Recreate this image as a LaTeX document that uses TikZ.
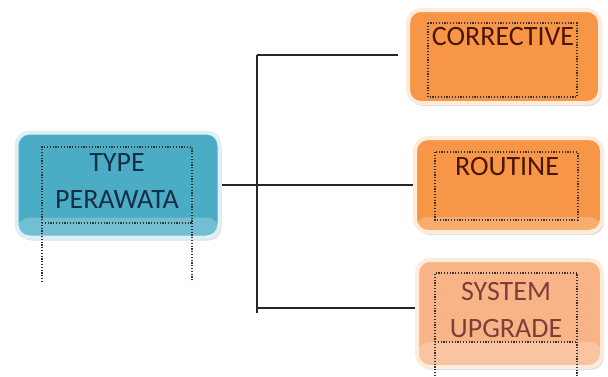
\documentclass[tikz,border=0pt]{standalone}
\usepackage{fontspec}
\setmainfont{Carlito}
\usepackage{tikz}
\usetikzlibrary{shadows}

\definecolor{tealfill}{HTML}{4BACC6}
\definecolor{tealrim}{HTML}{DDF0F5}
\definecolor{tealtext}{HTML}{172F45}
\definecolor{orangefill}{HTML}{F79646}
\definecolor{peachfill}{HTML}{F8B487}
\definecolor{orangerim}{HTML}{FDEBDC}
\definecolor{browntext}{HTML}{4A1606}
\definecolor{rosetext}{HTML}{7E3E3A}

\tikzset{
  box/.style={rounded corners=13pt, line width=4pt, minimum width=#1, inner sep=0pt,
    drop shadow={opacity=0.25, shadow xshift=2pt, shadow yshift=-3pt}},
  gloss/.style={path picture={\fill[white, opacity=0.22]
    ([yshift=#1]path picture bounding box.south west) rectangle
    (path picture bounding box.south east);}},
  frame/.style={dash pattern=on 1.2pt off 1.6pt, line width=1.3pt, black!80},
  lbl/.style={font=\fontsize{28}{37}\selectfont, align=center, inner sep=0pt},
  link/.style={line width=1.6pt, black!85}
}

\begin{document}
\begin{tikzpicture}[x=1pt,y=-1pt]
\useasboundingbox (0,0) rectangle (608,376);

% boxes
\node[box=203pt, minimum height=105pt, fill=tealfill, draw=tealrim, gloss=20pt] (type) at (118,185) {};
\node[box=192pt, minimum height=93pt, fill=orangefill, draw=orangerim] (corrective) at (504,56.5) {};
\node[box=187pt, minimum height=94pt, fill=orangefill, draw=orangerim, gloss=15pt] (routine) at (508.5,185) {};
\node[box=185pt, minimum height=107pt, fill=peachfill, draw=orangerim, gloss=25pt] (upgrade) at (509.5,313.5) {};

% text frames
\draw[frame] (42,282) -- (42,147) -- (192,147) -- (192,282) (42,223) -- (192,223);
\draw[frame] (428,23) rectangle (577,97);
\draw[frame] (435,152) rectangle (578,220);
\draw[frame] (435,376) -- (435,273) -- (577,273) -- (577,376) (435,342) -- (577,342);

% labels
\node[lbl, text=tealtext] (typetxt) at (117,181.5) {TYPE\\PERAWATA};
\node[lbl, text=browntext] (correctivetxt) at (503,37) {CORRECTIVE};
\node[lbl, text=browntext] (routinetxt) at (507,167) {ROUTINE};
\node[lbl, text=rosetext] (upgradetxt) at (506,310) {SYSTEM\\UPGRADE};

% connectors
\coordinate (jtop) at (257,55);
\coordinate (jbot) at (257,308);
\draw[link] (type.east) -- (type.east -| routine.west);
\draw[link] (jtop) -- ([yshift=-5pt]jbot);
\draw[link] (jtop) -- ([xshift=-8pt]jtop -| corrective.west);
\draw[link] (jbot) -- (jbot -| upgrade.west);
\end{tikzpicture}
\end{document}
